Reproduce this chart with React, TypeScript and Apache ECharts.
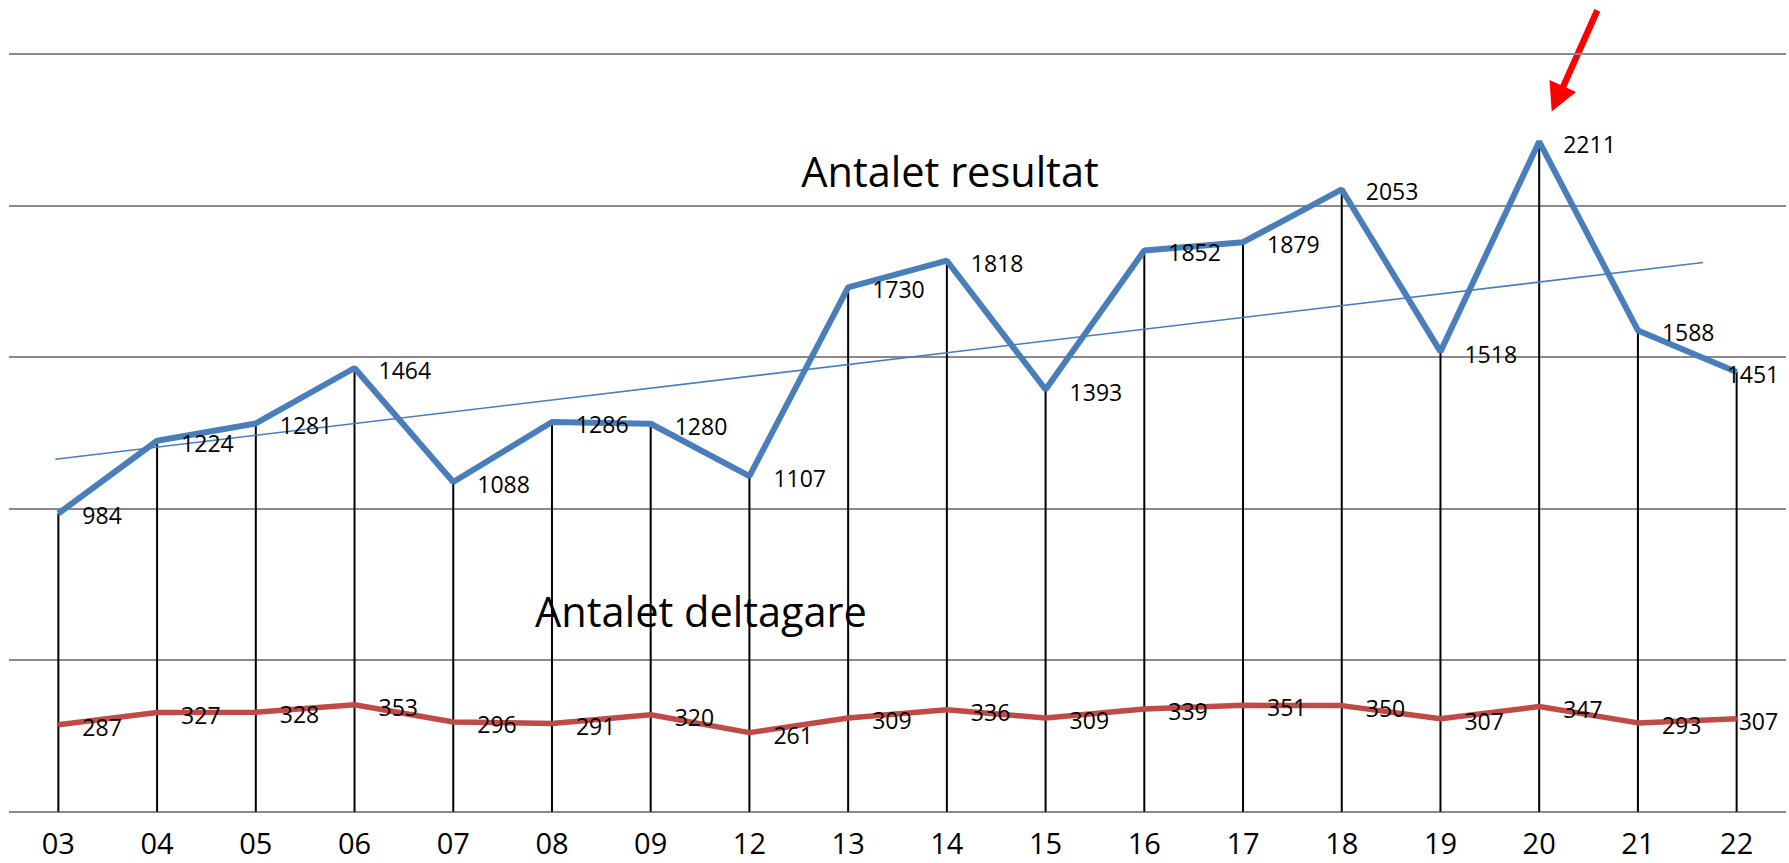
import React, { useEffect, useRef } from "react";
import * as echarts from "echarts";

const categories = ["03", "04", "05", "06", "07", "08", "09", "12", "13", "14", "15", "16", "17", "18", "19", "20", "21", "22"];
const resultat = [984, 1224, 1281, 1464, 1088, 1286, 1280, 1107, 1730, 1818, 1393, 1852, 1879, 2053, 1518, 2211, 1588, 1451];
const deltagare = [287, 327, 328, 353, 296, 291, 320, 261, 309, 336, 309, 339, 351, 350, 307, 347, 293, 307];
// trend line end points: [category position, value]
const trendStart = [-0.03, 1163];
const trendEnd = [16.66, 1812];
const yMin = 0;
const yMax = 2500;
const yStep = 500;
const titleResultat = "Antalet resultat";
const titleDeltagare = "Antalet deltagare";

const FONT = '"Open Sans", "Noto Sans", sans-serif';
const BLUE = "#4A7EBB";
const RED = "#BE4B48";

export default function App() {
  const ref = useRef<HTMLDivElement>(null);
  useEffect(() => {
    if (!ref.current) return;
    const chart = echarts.init(ref.current, null, { renderer: "svg" });
    const last = resultat.length - 1;
    const labelBase = {
      show: true,
      position: "right",
      distance: 23,
      offset: [0, 2],
      color: "#000",
      fontFamily: FONT,
      fontSize: 23,
    };
    chart.setOption({
      animation: false,
      backgroundColor: "#fff",
      grid: { left: 9, right: 3, top: 54, bottom: 51.3, containLabel: false },
      xAxis: [
        {
          type: "category",
          data: categories,
          boundaryGap: true,
          axisLine: { show: false },
          axisTick: { show: false },
          splitLine: { show: false },
          axisLabel: {
            color: "#000",
            fontFamily: FONT,
            fontSize: 29,
            lineHeight: 22,
            margin: 20,
            interval: 0,
          },
        },
        {
          type: "value",
          min: -0.5,
          max: categories.length - 0.5,
          show: false,
        },
      ],
      yAxis: {
        type: "value",
        min: yMin,
        max: yMax,
        interval: yStep,
        axisLine: { show: false },
        axisTick: { show: false },
        axisLabel: { show: false },
        splitLine: { show: true, lineStyle: { color: "#8a8a8a", width: 2 } },
      },
      series: [
        {
          type: "bar",
          data: resultat,
          barWidth: 2,
          itemStyle: { color: "#000" },
          silent: true,
          z: 1,
        },
        {
          type: "line",
          xAxisIndex: 1,
          data: [trendStart, trendEnd],
          symbol: "none",
          lineStyle: { color: BLUE, width: 1.6 },
          z: 2,
          silent: true,
        },
        {
          type: "line",
          data: resultat.map((v, i) =>
            i === last ? { value: v, label: { offset: [-34, 2] } } : v
          ),
          symbol: "circle",
          symbolSize: 2,
          itemStyle: { color: BLUE },
          lineStyle: { color: BLUE, width: 6 },
          label: labelBase,
          z: 3,
        },
        {
          type: "line",
          data: deltagare.map((v, i) =>
            i === last ? { value: v, label: { offset: [-22, 2] } } : v
          ),
          symbol: "circle",
          symbolSize: 2,
          itemStyle: { color: RED },
          lineStyle: { color: RED, width: 5.5 },
          label: labelBase,
          z: 3,
        },
      ],
      graphic: [
        {
          type: "text",
          x: 950,
          y: 171,
          style: {
            text: titleResultat,
            fontFamily: FONT,
            fontSize: 41.5,
            fill: "#000",
            align: "center",
            verticalAlign: "middle",
          },
        },
        {
          type: "text",
          x: 701,
          y: 611,
          style: {
            text: titleDeltagare,
            fontFamily: FONT,
            fontSize: 41.5,
            fill: "#000",
            align: "center",
            verticalAlign: "middle",
          },
        },
        {
          type: "line",
          shape: { x1: 1597.3, y1: 10.3, x2: 1563, y2: 87 },
          style: { stroke: "#FF0000", lineWidth: 6.5 },
        },
        {
          type: "polygon",
          shape: { points: [[1549.5, 80], [1576, 92], [1551.7, 111.5]] },
          style: { fill: "#FF0000" },
        },
      ],
    });
    return () => chart.dispose();
  }, []);
  return (
    <div
      ref={ref}
      style={{ position: "absolute", left: 0, top: 0, width: 1789, height: 863 }}
    />
  );
}
